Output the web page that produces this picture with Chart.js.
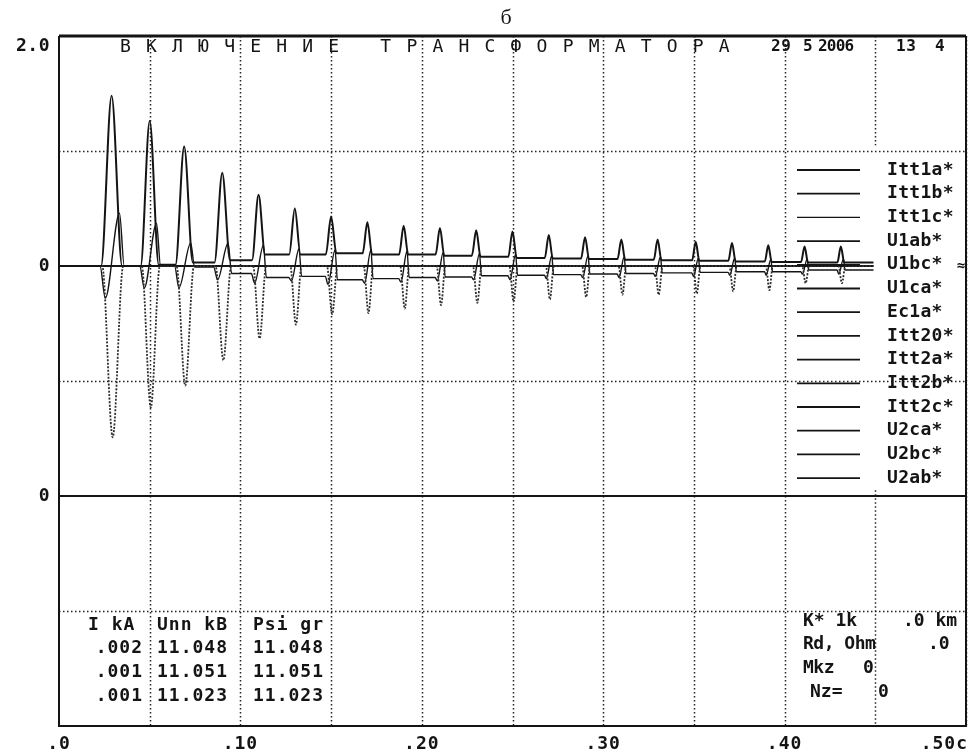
<!DOCTYPE html>
<html>
<head>
<meta charset="utf-8">
<script src="https://cdn.jsdelivr.net/npm/chart.js@4.4.0/dist/chart.umd.min.js"></script>
<style>
  html, body { margin: 0; padding: 0; background: #fff; }
  #wrap { position: relative; width: 970px; height: 755px; }
</style>
</head>
<body>
<div id="wrap"><canvas id="osc" width="970" height="755"></canvas></div>
<script>
// --- data ---
const CHANNELS = ['Itt1a*','Itt1b*','Itt1c*','U1ab*','U1bc*','U1ca*','Ec1a*',
                  'Itt20*','Itt2a*','Itt2b*','Itt2c*','U2ca*','U2bc*','U2ab*'];

// inrush pulses, one per period (s)
const PULSE_T  = [0.029,0.050,0.069,0.090,0.110,0.130,0.150,0.170,0.190,0.210,0.230,
                  0.250,0.270,0.290,0.310,0.330,0.351,0.371,0.391,0.411,0.431];
const POS_PEAK = [1.48,1.26,1.04,0.81,0.62,0.50,0.43,0.38,0.35,0.33,0.31,
                  0.30,0.27,0.25,0.23,0.23,0.21,0.20,0.18,0.17,0.17];
const NEG_PEAK = [-1.49,-1.23,-1.04,-0.82,-0.63,-0.51,-0.42,-0.41,-0.37,-0.34,-0.32,
                  -0.31,-0.29,-0.27,-0.25,-0.25,-0.24,-0.22,-0.21,-0.15,-0.15];
const HALF_W   = [0.0058,0.0050,0.0048,0.0043,0.0036,0.0031,0.0029,0.0026,0.0025,0.0024,0.0024,
                  0.0023,0.0022,0.0022,0.0021,0.0021,0.0020,0.0020,0.0019,0.0019,0.0019];
const DIP_C    = [-0.28,-0.19,-0.19,-0.12,-0.15,-0.13,-0.16,-0.15,-0.14,-0.13,-0.12,
                  -0.12,-0.11,-0.10,-0.10,-0.09,-0.09,-0.08,-0.08,-0.07,-0.07];
const BUMP_C   = [0.46,0.37,0.20,0.20,0.18,0.15,0.14,0.14,0.13,0.12,0.11,
                  0.10,0.09,0.09,0.08,0.08,0.07,0.07,0.06,0.06,0.06];
const LEVEL_A  = [0.00,0.01,0.03,0.05,0.10,0.10,0.11,0.10,0.10,0.09,0.08,
                  0.07,0.065,0.06,0.055,0.05,0.045,0.04,0.035,0.03,0.03];
const LEVEL_C  = [0.00,0.00,-0.01,-0.065,-0.10,-0.09,-0.12,-0.11,-0.10,-0.095,-0.085,
                  -0.08,-0.075,-0.07,-0.065,-0.06,-0.055,-0.05,-0.05,-0.035,-0.035];
const T_END = 0.449;

const X_TICKS  = [0, 0.1, 0.2, 0.3, 0.4, 0.5];
const X_LABELS = ['.0', '.10', '.20', '.30', '.40', '.50c'];
const Y_TICKS  = [2, 0, -2];
const Y_LABELS = ['2.0', '0', '0'];

const TABLE_HEAD = ['I kA', 'Unn kB', 'Psi gr'];
const TABLE_I    = ['.002', '.001', '.001'];
const TABLE_U    = ['11.048', '11.051', '11.023'];
const TABLE_PSI  = ['11.048', '11.051', '11.023'];

const INK = '#141414';
const MONO = '"DejaVu Sans Mono", "Liberation Mono", monospace';

// --- series built from the pulse tables ---
function pulseSeries(peaks, levels, shift) {
  const pts = [{ x: 0, y: 0 }];
  let prev = 0;
  PULSE_T.forEach((t, i) => {
    const w = HALF_W[i], c = t + shift;
    const next = levels ? levels[i] : 0;
    pts.push({ x: c - w, y: prev }, { x: c, y: peaks[i] }, { x: c + w, y: next });
    prev = next;
  });
  pts.push({ x: T_END, y: prev });
  return pts;
}

function phaseCSeries() {
  const pts = [{ x: 0, y: 0 }];
  let prev = 0;
  PULSE_T.forEach((t, i) => {
    const w = HALF_W[i];
    pts.push({ x: t - 1.1 * w, y: prev }, { x: t - 0.6 * w, y: DIP_C[i] },
             { x: t + 0.75 * w, y: BUMP_C[i] }, { x: t + 1.2 * w, y: LEVEL_C[i] });
    prev = LEVEL_C[i];
  });
  pts.push({ x: T_END, y: prev });
  return pts;
}

const seriesData = {
  'Itt1a*': pulseSeries(POS_PEAK, LEVEL_A, 0),
  'Itt1b*': pulseSeries(NEG_PEAK, null, 0.0006),
  'Itt1c*': phaseCSeries(),
  'Itt20*': [{ x: 0, y: 0 }, { x: T_END, y: 0 }],
};

const datasets = CHANNELS.map(name => ({
  label: name,
  data: seriesData[name] || [],
  borderColor: name === 'Itt1b*' ? '#2e2e2e' : INK,
  borderWidth: name === 'Itt1c*' ? 1.4 : (name === 'Itt1b*' ? 1.8 : 2),
  borderDash: name === 'Itt1b*' ? [2, 1.5] : [],
}));

function txt(ctx, s, x, y, font, align, spacing) {
  ctx.font = font;
  ctx.textAlign = align || 'left';
  ctx.letterSpacing = spacing || '0px';
  ctx.fillText(s, x, y);
}

// frame, dotted grid, texts and legend in the style of the recorder print-out
const scopePlot = {
  id: 'scopePlot',
  beforeDatasetsDraw(chart) {
    const { ctx, chartArea: a, scales: { x, y } } = chart;
    ctx.save();
    ctx.strokeStyle = '#222';
    ctx.lineWidth = 1.5;
    ctx.setLineDash([1.5, 2.5]);
    for (let v = 0.05; v < 0.5; v += 0.05) {
      const px = Math.round(x.getPixelForValue(v)) + 0.5;
      ctx.beginPath();
      if (v > 0.44 && v < 0.46) {           // hidden behind legend block
        ctx.moveTo(px, a.top); ctx.lineTo(px, y.getPixelForValue(1.05));
        ctx.moveTo(px, y.getPixelForValue(-1.95)); ctx.lineTo(px, a.bottom);
      } else {
        ctx.moveTo(px, a.top); ctx.lineTo(px, a.bottom);
      }
      ctx.stroke();
    }
    [1, -1, -3].forEach(v => {
      const py = Math.round(y.getPixelForValue(v)) + 0.5;
      ctx.beginPath(); ctx.moveTo(a.left, py); ctx.lineTo(a.right, py); ctx.stroke();
    });
    ctx.setLineDash([]);
    ctx.strokeStyle = INK;
    // lower panel zero
    ctx.lineWidth = 2;
    const pz = y.getPixelForValue(-2);
    ctx.beginPath(); ctx.moveTo(a.left, pz); ctx.lineTo(a.right, pz); ctx.stroke();
    // frame
    ctx.lineWidth = 3;
    ctx.beginPath(); ctx.moveTo(a.left, a.top); ctx.lineTo(a.right, a.top); ctx.stroke();
    ctx.lineWidth = 2;
    ctx.beginPath();
    ctx.moveTo(a.right, a.top); ctx.lineTo(a.right, a.bottom);
    ctx.lineTo(a.left, a.bottom); ctx.lineTo(a.left, a.top);
    ctx.stroke();
    ctx.restore();
  },
  afterDatasetsDraw(chart) {
    const { ctx, chartArea: a, scales: { x, y } } = chart;
    ctx.save();
    ctx.fillStyle = INK;
    ctx.textBaseline = 'middle';
    const f = 'bold 18px ' + MONO;

    // axis labels
    X_TICKS.forEach((v, i) => {
      let px = x.getPixelForValue(v);
      ctx.font = f;
      ctx.letterSpacing = '1px';
      const tw = ctx.measureText(X_LABELS[i]).width;
      if (px + tw / 2 > chart.width - 2) px = chart.width - 2 - tw / 2;
      txt(ctx, X_LABELS[i], px, 744, f, 'center', '1px');
    });
    Y_TICKS.forEach((v, i) => {
      const py = Math.max(y.getPixelForValue(v), a.top + 10);
      txt(ctx, Y_LABELS[i], 50, py, f, 'right', '0.5px');
    });

    // headline
    txt(ctx, 'б', 506, 18, '22px "Liberation Serif", "DejaVu Serif", serif', 'center');
    txt(ctx, 'ВКЛЮЧЕНИЕ ТРАНСФОРМАТОРА', 120, 47, '18px ' + MONO, 'left', '15.2px');
    txt(ctx, '29', 771, 47, 'bold 16px ' + MONO, 'left', '0.5px');
    txt(ctx, '5', 803, 47, 'bold 16px ' + MONO, 'left');
    txt(ctx, '2006', 818, 47, 'bold 16px ' + MONO, 'left', '-0.8px');
    txt(ctx, '13', 896, 47, 'bold 16px ' + MONO, 'left', '0.5px');
    txt(ctx, '4', 935, 47, 'bold 16px ' + MONO, 'left');

    // legend
    chart.data.datasets.forEach((ds, i) => {
      const ly = 170 + i * 23.7;
      ctx.strokeStyle = INK;
      ctx.lineWidth = ds.label === 'Itt1c*' ? 1.2 : 1.8;
      ctx.beginPath(); ctx.moveTo(797, ly); ctx.lineTo(860, ly); ctx.stroke();
      txt(ctx, ds.label, 887, ly, f, 'left', '0.3px');
    });
    txt(ctx, '≈', 961, y.getPixelForValue(0), 'bold 14px ' + MONO, 'center');

    // readings table, lower left
    txt(ctx, TABLE_HEAD[0], 88, 625, f, 'left', '1px');
    txt(ctx, TABLE_HEAD[1], 157, 625, f, 'left', '1px');
    txt(ctx, TABLE_HEAD[2], 253, 625, f, 'left', '1px');
    TABLE_I.forEach((s, r) => {
      const ry = 648 + r * 24;
      txt(ctx, s, 143, ry, f, 'right', '1px');
      txt(ctx, TABLE_U[r], 157, ry, f, 'left', '1px');
      txt(ctx, TABLE_PSI[r], 253, ry, f, 'left', '1px');
    });

    // settings, lower right
    txt(ctx, 'K* 1k', 803, 621, f, 'left', '0px');
    txt(ctx, '.0 km', 903, 621, f, 'left', '0px');
    txt(ctx, 'Rd, Ohm', 803, 644, f, 'left', '-0.5px');
    txt(ctx, '.0', 928, 644, f, 'left', '0px');
    txt(ctx, 'Mkz', 803, 668, f, 'left', '-0.5px');
    txt(ctx, '0', 863, 668, f, 'left', '0px');
    txt(ctx, 'Nz=', 810, 692, f, 'left', '0px');
    txt(ctx, '0', 878, 692, f, 'left', '0px');
    ctx.restore();
  },
};

new Chart(document.getElementById('osc'), {
  type: 'line',
  data: { datasets },
  options: {
    responsive: false,
    animation: false,
    events: [],
    devicePixelRatio: 1,
    layout: { padding: { left: 59, top: 36, right: 4, bottom: 29 } },
    elements: {
      point: { radius: 0 },
      line: { cubicInterpolationMode: 'monotone', fill: false },
    },
    plugins: { legend: { display: false }, tooltip: { enabled: false } },
    scales: {
      x: { type: 'linear', min: 0, max: 0.5, display: false },
      y: { type: 'linear', min: -4, max: 2, display: false },
    },
  },
  plugins: [scopePlot],
});
</script>
</body>
</html>
